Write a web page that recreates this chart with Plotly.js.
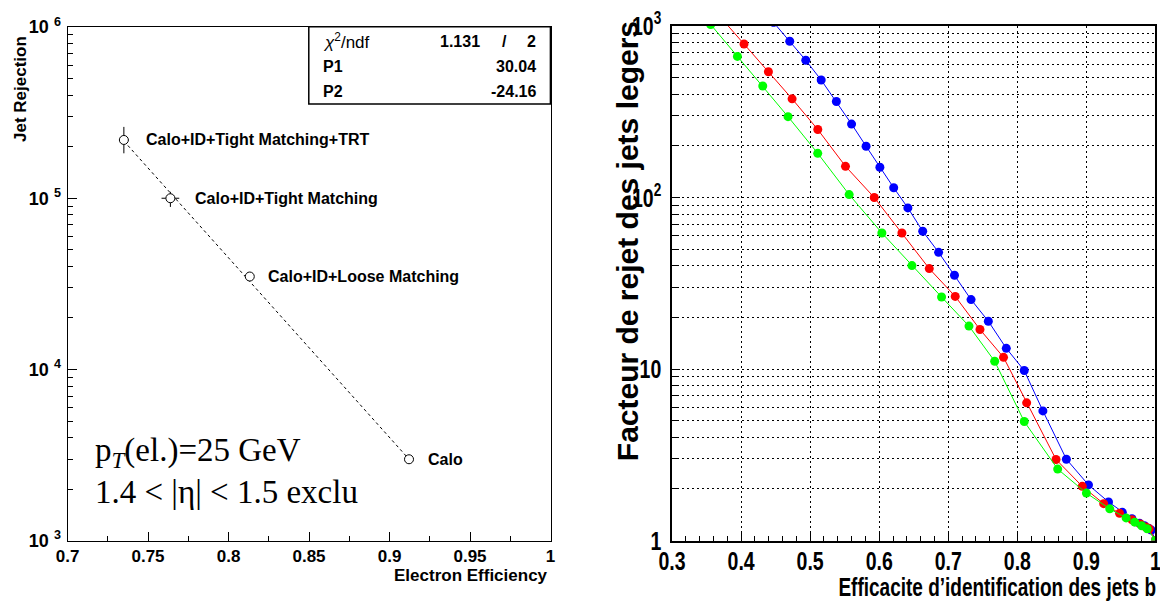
<!DOCTYPE html>
<html>
<head>
<meta charset="utf-8">
<script src="https://cdn.plot.ly/plotly-3.0.1.min.js"></script>
<style>html,body{margin:0;padding:0;background:#fff;}#chart{width:1160px;height:603px;}</style>
</head>
<body>
<div id="chart"></div>
<script>
// ---------- Left panel data ----------
const selNames = ['Calo+ID+Tight Matching+TRT', 'Calo+ID+Tight Matching', 'Calo+ID+Loose Matching', 'Calo'];
const elecEff = [0.735, 0.7639, 0.8132, 0.9121];
const elecEffErr = [0.003, 0.0055, 0.0015, 0.001];
const jetRej = [219000, 100000, 34900, 2990];
const jetRejErrPlus = [42000, 9000, 1200, 50];
const jetRejErrMinus = [36000, 11000, 1200, 50];
const labelShift = [20, 23, 16, 17];
const fitChi2 = 1.131, fitNdf = 2, fitP1 = 30.04, fitP2 = -24.16;

// ---------- Right panel data ----------
const effBlue = [0.447, 0.4705, 0.4937, 0.516, 0.538, 0.560, 0.581, 0.601, 0.621, 0.6415, 0.663, 0.686, 0.709, 0.733, 0.758, 0.784, 0.810, 0.837, 0.871, 0.903, 0.932, 0.952, 0.966, 0.977, 0.984, 0.990, 0.994, 1.0];
const rejBlue = [1050, 815, 631, 484, 363, 268, 199, 150, 114, 87, 63.6, 47.9, 35.2, 25.4, 19.0, 13.2, 9.8, 5.7, 2.98, 2.11, 1.68, 1.46, 1.34, 1.26, 1.22, 1.18, 1.15, 1.0];
const effRed = [0.369, 0.4043, 0.4396, 0.4739, 0.5111, 0.5512, 0.5928, 0.6329, 0.6725, 0.7101, 0.7459, 0.7800, 0.8135, 0.856, 0.894, 0.925, 0.948, 0.966, 0.978, 0.986, 0.991, 1.0];
const rejRed = [1140, 785, 541, 376, 249, 152, 100, 62.1, 38.5, 26.5, 17.0, 11.7, 6.35, 2.97, 2.07, 1.64, 1.44, 1.32, 1.25, 1.20, 1.17, 1.0];
const effGreen = [0.356, 0.3947, 0.4314, 0.468, 0.511, 0.5565, 0.6039, 0.6474, 0.6903, 0.730, 0.7672, 0.810, 0.8584, 0.900, 0.9338, 0.9575, 0.970, 0.980, 0.988, 1.0];
const rejGreen = [1020, 665, 447, 296, 181, 104, 62.1, 40.1, 26.3, 17.8, 11.1, 4.94, 2.61, 1.89, 1.53, 1.355, 1.28, 1.22, 1.17, 1.0];

const leftXTicks = [0.7, 0.75, 0.8, 0.85, 0.9, 0.95, 1];
const leftXTickText = ['0.7', '0.75', '0.8', '0.85', '0.9', '0.95', '1'];
const leftXMinor = [0.725, 0.775, 0.825, 0.875, 0.925, 0.975];
const leftYTicks = [1e3, 1e4, 1e5, 1e6];
const leftYTickText = ['10 <sup>3</sup>', '10 <sup>4</sup>', '10 <sup>5</sup>', '10 <sup>6</sup>'];
const rightXTicks = [0.3, 0.4, 0.5, 0.6, 0.7, 0.8, 0.9, 1];
const rightXTickText = ['0.3', '0.4', '0.5', '0.6', '0.7', '0.8', '0.9', '1'];
const rightYTicks = [1, 10, 100, 1000];
const rightYTickText = ['1', '10', '10<sup>2</sup>', '10<sup>3</sup>'];

function minorLog(lo, hi) {
  const v = [];
  for (let d = lo; d < hi; d++) for (let m = 2; m <= 9; m++) v.push(m * Math.pow(10, d));
  return v;
}

const SANS = 'Arial, "Liberation Sans", sans-serif';
const SERIF = '"Liberation Serif", "Times New Roman", serif';

const fitX = [elecEff[0], elecEff[elecEff.length - 1]];
const fitY = fitX.map(x => Math.exp(fitP1 + fitP2 * x));

const traces = [
  {x: fitX, y: fitY, xaxis: 'x', yaxis: 'y', mode: 'lines', line: {color: '#000', width: 1, dash: '3px,3px'}, hoverinfo: 'skip'},
  {x: elecEff, y: jetRej, xaxis: 'x', yaxis: 'y', mode: 'markers',
   marker: {symbol: 'circle', size: 9, color: '#fff', line: {width: 1, color: '#000'}},
   error_x: {type: 'data', array: elecEffErr, width: 0, thickness: 1, color: '#000'},
   error_y: {type: 'data', symmetric: false, array: jetRejErrPlus, arrayminus: jetRejErrMinus, width: 0, thickness: 1, color: '#000'}},
  {x: effBlue, y: rejBlue, xaxis: 'x2', yaxis: 'y2', mode: 'lines+markers', line: {color: '#0000ff', width: 1}, marker: {color: '#0000ff', size: 9}},
  {x: effRed, y: rejRed, xaxis: 'x2', yaxis: 'y2', mode: 'lines+markers', line: {color: '#ff0000', width: 1}, marker: {color: '#ff0000', size: 9}},
  {x: effGreen, y: rejGreen, xaxis: 'x2', yaxis: 'y2', mode: 'lines+markers', line: {color: '#00ff00', width: 1}, marker: {color: '#00ff00', size: 9}}
];

const annotations = [];
selNames.forEach((n, i) => {
  annotations.push({xref: 'x', yref: 'y', x: elecEff[i], y: Math.log10(jetRej[i]), text: '<b>' + n + '</b>',
    showarrow: false, xanchor: 'left', yanchor: 'middle', xshift: labelShift[i], font: {family: SANS, size: 16, color: '#000'}});
});
const rowY = [0.932, 0.8894, 0.8479];
function stat(x, y, anchor, text, size) {
  annotations.push({xref: 'paper', yref: 'paper', x: x, y: y, xanchor: anchor, yanchor: 'middle', showarrow: false,
    text: text, font: {family: SANS, size: size || 16, color: '#000'}});
}
stat(0.2764, rowY[0], 'left', '<i>χ</i><sup>2</sup>/ndf', 17);
stat(0.4155, rowY[0], 'right', '<b>' + fitChi2.toFixed(3) + '</b>');
stat(0.4345, rowY[0], 'center', '<b>/</b>');
stat(0.4634, rowY[0], 'right', '<b>' + fitNdf + '</b>');
stat(0.2764, rowY[1], 'left', '<b>P1</b>');
stat(0.4634, rowY[1], 'right', '<b>' + fitP1.toFixed(2) + '</b>');
stat(0.2764, rowY[2], 'left', '<b>P2</b>');
stat(0.4634, rowY[2], 'right', '<b>' + fitP2.toFixed(2) + '</b>');
annotations.push({xref: 'paper', yref: 'paper', x: 0.0802, y: 0.2488, xanchor: 'left', yanchor: 'middle', showarrow: false,
  text: 'p<sub><i>T</i></sub>(el.)=25 GeV', font: {family: SERIF, size: 33, color: '#000'}});
annotations.push({xref: 'paper', yref: 'paper', x: 0.0802, y: 0.1841, xanchor: 'left', yanchor: 'middle', showarrow: false,
  text: '1.4 &lt; |η| &lt; 1.5 exclu', font: {family: SERIF, size: 33, color: '#000'}});
annotations.push({xref: 'paper', yref: 'paper', x: 0.01724, y: 0.8524, xanchor: 'center', yanchor: 'middle', showarrow: false, textangle: -90,
  text: '<b>Jet Rejection</b>', font: {family: SANS, size: 17, color: '#000'}});
annotations.push({xref: 'paper', yref: 'paper', x: 0.4741, y: 0.0464, xanchor: 'right', yanchor: 'middle', showarrow: false,
  text: '<b>Electron Efficiency</b>', font: {family: SANS, size: 17, color: '#000'}});
annotations.push({xref: 'paper', yref: 'paper', x: 0.5405, y: 0.6, xanchor: 'center', yanchor: 'middle', showarrow: false, textangle: -90,
  text: '<b>Facteur de rejet des jets legers</b>', font: {family: SANS, size: 30, color: '#000'}});
annotations.push({xref: 'paper', yref: 'paper', x: 0.9983, y: 0.027, xanchor: 'right', yanchor: 'middle', showarrow: false,
  text: '<b>Efficacite d’identification des jets b</b>', font: {family: SANS, size: 25, color: '#000'}});

const tf = (s) => ({family: SANS, size: s, color: '#000', weight: 'bold'});

const layout = {
  width: 1160, height: 603,
  margin: {l: 0, r: 0, t: 0, b: 0},
  paper_bgcolor: '#fff', plot_bgcolor: '#fff',
  showlegend: false,
  xaxis: {domain: [0.0582, 0.4746], range: [0.7, 1.0], showgrid: false, zeroline: false,
    showline: true, mirror: true, linecolor: '#000', linewidth: 1,
    ticks: 'inside', ticklen: 9, tickwidth: 1, tickcolor: '#000',
    tickmode: 'array', tickvals: leftXTicks, ticktext: leftXTickText, ticklabeloverflow: 'allow',
    tickfont: tf(17),
    minor: {tickmode: 'array', tickvals: leftXMinor, ticks: 'inside', ticklen: 5, tickcolor: '#000', showgrid: false},
    anchor: 'y'},
  yaxis: {domain: [0.1033, 0.9552], type: 'log', range: [3, 6], showgrid: false, zeroline: false,
    showline: true, mirror: true, linecolor: '#000', linewidth: 1,
    ticks: 'inside', ticklen: 9, tickwidth: 1, tickcolor: '#000',
    tickmode: 'array', tickvals: leftYTicks, ticktext: leftYTickText, ticklabeloverflow: 'allow',
    tickfont: tf(18), ticklabelstandoff: 2,
    minor: {tickmode: 'array', tickvals: minorLog(3, 6), ticks: 'inside', ticklen: 5, tickcolor: '#000', showgrid: false},
    anchor: 'x'},
  xaxis2: {domain: [0.5793, 0.9961], range: [0.3, 1.0], zeroline: false,
    showline: true, mirror: true, linecolor: '#000', linewidth: 2,
    showgrid: true, gridcolor: '#000', gridwidth: 1, griddash: '2px,3px',
    ticks: 'inside', ticklen: 8, tickwidth: 1, tickcolor: '#000',
    tickmode: 'array', tickvals: rightXTicks, ticktext: rightXTickText, ticklabeloverflow: 'allow',
    tickfont: tf(26), ticklabelstandoff: -4,
    minor: {dtick: 0.02, tick0: 0.3, ticks: 'inside', ticklen: 5, tickcolor: '#000', showgrid: false},
    anchor: 'y2'},
  yaxis2: {domain: [0.1036, 0.9569], type: 'log', range: [0, 3], zeroline: false,
    showline: true, mirror: true, linecolor: '#000', linewidth: 1.5,
    showgrid: true, gridcolor: '#000', gridwidth: 1, griddash: '2px,3px',
    ticks: 'inside', ticklen: 8, tickwidth: 1, tickcolor: '#000',
    tickmode: 'array', tickvals: rightYTicks, ticktext: rightYTickText, ticklabeloverflow: 'allow',
    tickfont: tf(26), ticklabelstandoff: 4,
    minor: {tickmode: 'array', tickvals: minorLog(0, 3), ticks: 'inside', ticklen: 5, tickcolor: '#000',
      showgrid: true, gridcolor: '#000', gridwidth: 1, griddash: '2px,3px'},
    anchor: 'x2'},
  shapes: [
    {type: 'rect', xref: 'paper', yref: 'paper', x0: 0.2662, x1: 0.4745, y0: 0.8275, y1: 0.9557,
     fillcolor: '#fff', line: {color: '#000', width: 1.5}, layer: 'above'}
  ],
  annotations: annotations
};

function makeBold(nodes) {
  nodes.forEach(t => { t.style.fontWeight = 'bold'; });
}
// horizontally condense a text node (ROOT draws these labels narrow)
function squeeze(nodes, f, mode) {
  nodes.forEach(t => {
    const bb = t.getBBox();
    if (!bb.width) return;
    const px = mode === 'right' ? bb.x + bb.width : bb.x + bb.width / 2;
    const prev = t.getAttribute('transform') || '';
    t.setAttribute('transform', prev + ' translate(' + px + ',0) scale(' + f + ',1) translate(' + (-px) + ',0)');
  });
}

Plotly.newPlot('chart', traces, layout, {staticPlot: true, displayModeBar: false}).then(gd => {
  const q = (s) => Array.from(gd.querySelectorAll(s));
  makeBold(q('g.xtick text'));
  makeBold(q('g.ytick text'));
  makeBold(q('g.x2tick text'));
  makeBold(q('g.y2tick text'));
  squeeze(q('g.x2tick text'), 0.75, 'center');
  squeeze(q('g.y2tick text'), 0.75, 'right');
  squeeze(q('.annotation-text').filter(t => t.textContent.indexOf('Efficacite') === 0), 0.76, 'right');
});
</script>
</body>
</html>
